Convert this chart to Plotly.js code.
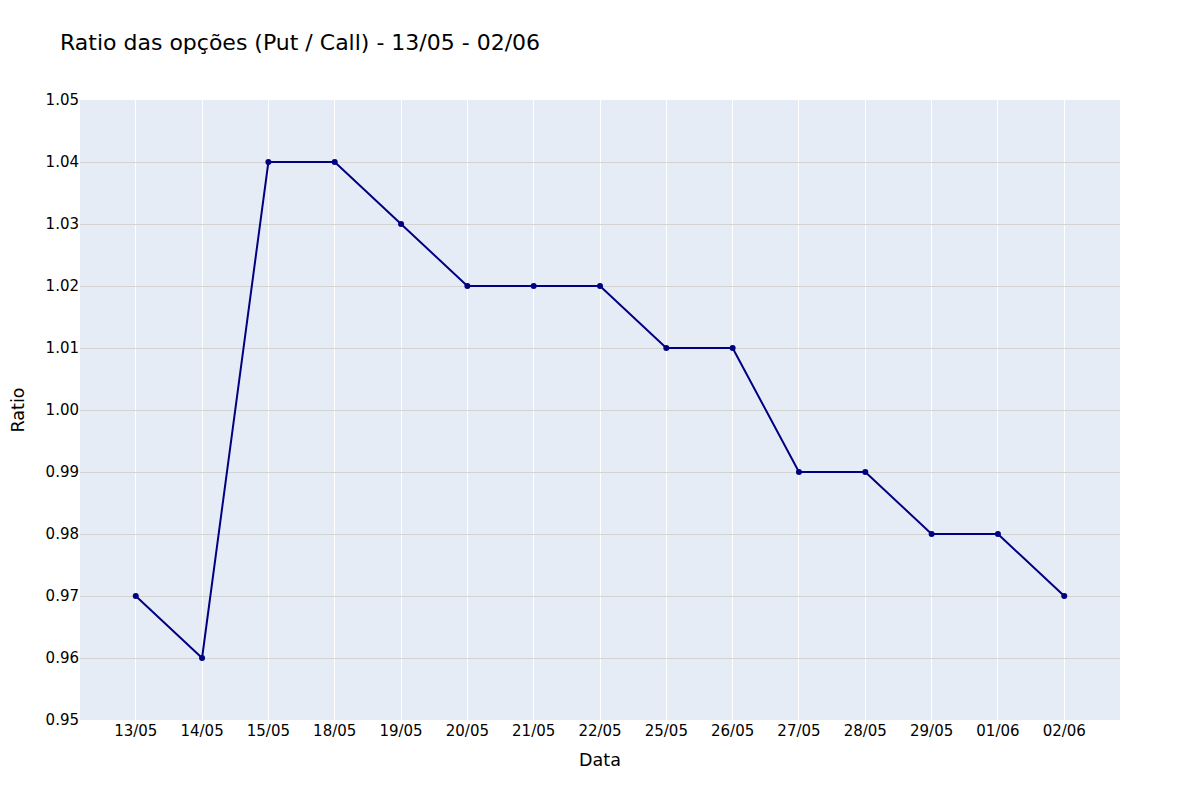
<!DOCTYPE html>
<html>
<head>
<meta charset="utf-8">
<script src="https://cdn.plot.ly/plotly-3.0.1.min.js"></script>
<style>html,body{margin:0;padding:0;background:#fff}#chart{width:1200px;height:800px}</style>
</head>
<body>
<div id="chart"></div>
<script>
const dates = ["13/05","14/05","15/05","18/05","19/05","20/05","21/05","22/05","25/05","26/05","27/05","28/05","29/05","01/06","02/06"];
const ratios = [0.97,0.96,1.04,1.04,1.03,1.02,1.02,1.02,1.01,1.01,0.99,0.99,0.98,0.98,0.97];

const trace = {
  x: dates,
  y: ratios,
  type: 'scatter',
  mode: 'lines+markers',
  line: {color: 'navy', width: 2},
  marker: {color: 'navy', size: 6}
};

const layout = {
  width: 1200,
  height: 800,
  font: {family: '"DejaVu Sans", Verdana, sans-serif', size: 15, color: '#000'},
  title: {text: 'Ratio das opções (Put / Call) - 13/05 - 02/06', x: 0.05, xanchor: 'left', y: 0.9475, yanchor: 'middle', font: {size: 22, color: '#000'}},
  paper_bgcolor: '#fff',
  plot_bgcolor: '#E5ECF6',
  margin: {l: 80, r: 80, t: 100, b: 80},
  xaxis: {
    type: 'category',
    title: {text: 'Data', font: {size: 17.5, color: '#000'}, standoff: 14},
    tickfont: {size: 15, color: '#000'},
    gridcolor: '#fff',
    gridwidth: 1,
    showline: false,
    zeroline: false
  },
  yaxis: {
    title: {text: 'Ratio', font: {size: 17.5, color: '#000'}, standoff: 16},
    tickfont: {size: 15, color: '#000'},
    range: [0.95, 1.05],
    dtick: 0.01,
    tickformat: '.2f',
    gridcolor: 'lightgray',
    gridwidth: 1,
    zeroline: false
  },
  showlegend: false
};

Plotly.newPlot('chart', [trace], layout, {displayModeBar: false});
</script>
</body>
</html>
